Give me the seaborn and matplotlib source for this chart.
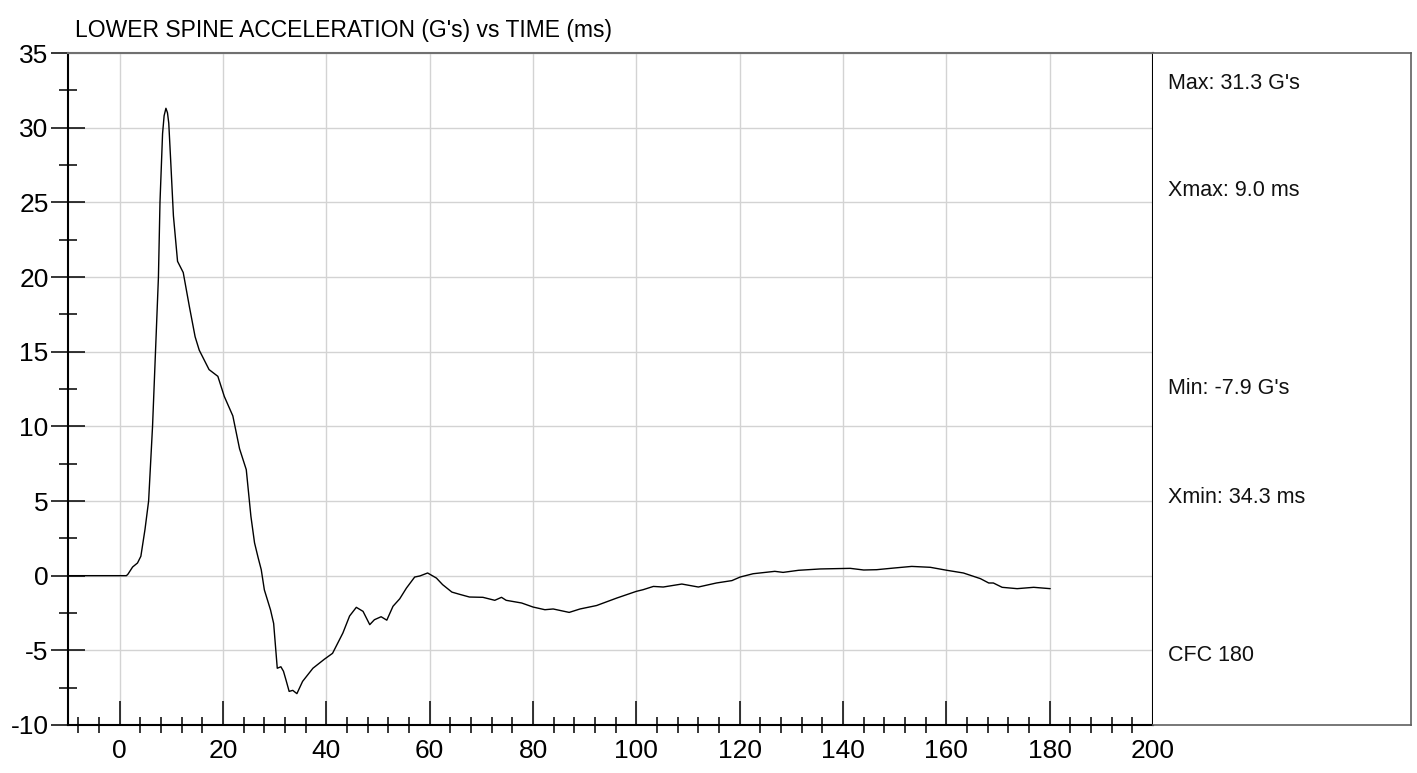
#%%
# Bibliotecas
import matplotlib
matplotlib.use('Agg')
import matplotlib.pyplot as plt
from matplotlib import font_manager
from matplotlib.ticker import MultipleLocator
import seaborn as sns
import pandas as pd

#%%
# Dados (tempo em ms, aceleracao em G's)
time_ms = [-10, 0, 1.3, 1.6, 2.5, 3.45, 4.1, 4.9, 5.6, 6.36, 7.0, 7.5, 7.8, 8.3, 8.6,
           8.95, 9.25, 9.5, 9.9, 10.4, 11.2, 12.3, 13.5, 14.6, 15.4, 17.3, 19.0, 20.25,
           21.9, 23.2, 24.5, 25.4, 26.1, 26.8, 27.4, 28.0, 29.2, 29.8, 30.5, 31.2, 31.7,
           32.2, 32.8, 33.5, 34.3, 35.4, 37.4, 39.6, 41.2, 43.2, 44.5, 45.8, 47.1, 48.4,
           49.3, 50.6, 51.7, 52.9, 54.2, 55.5, 57.1, 58.1, 59.6, 61.3, 62.5, 64.3, 65.8,
           67.7, 70.3, 72.6, 73.9, 74.8, 77.8, 80.0, 82.3, 83.9, 87.0, 89.1, 92.3, 96.2,
           100.0, 101.3, 103.3, 105.2, 108.8, 112.0, 115.5, 118.5, 120.1, 122.6, 126.8,
           128.4, 131.4, 135.6, 141.4, 144.0, 146.5, 149.8, 153.3, 156.9, 160.1, 163.3,
           166.6, 168.2, 169.1, 170.8, 173.7, 176.9, 180.1]
accel_g = [0, 0, 0, 0.1, 0.58, 0.85, 1.3, 3.1, 5.0, 10.0, 15.6, 20.0, 25.0, 29.6, 30.8,
           31.3, 31.0, 30.3, 27.6, 24.1, 21.05, 20.3, 18.0, 16.0, 15.1, 13.8, 13.35, 12.0,
           10.7, 8.5, 7.1, 3.97, 2.2, 1.2, 0.4, -0.95, -2.3, -3.2, -6.2, -6.1, -6.4,
           -7.0, -7.75, -7.68, -7.9, -7.08, -6.2, -5.6, -5.2, -3.84, -2.7, -2.12, -2.39, -3.28,
           -2.95, -2.75, -2.98, -2.05, -1.55, -0.83, -0.09, -0.02, 0.18, -0.16, -0.6, -1.1, -1.25,
           -1.43, -1.45, -1.65, -1.45, -1.65, -1.83, -2.1, -2.28, -2.23, -2.46, -2.23, -2.0, -1.5,
           -1.05, -0.94, -0.72, -0.76, -0.56, -0.76, -0.49, -0.33, -0.09, 0.13, 0.29,
           0.22, 0.36, 0.45, 0.49, 0.38, 0.4, 0.51, 0.62, 0.56, 0.36, 0.18,
           -0.2, -0.49, -0.49, -0.78, -0.87, -0.78, -0.87]

title = "LOWER SPINE ACCELERATION (G's) vs TIME (ms)"
stats_labels = ["Max: 31.3 G's", "Xmax: 9.0 ms", "Min: -7.9 G's", "Xmin: 34.3 ms", "CFC 180"]
stats_ypos = [0.955, 0.795, 0.501, 0.338, 0.104]

df = pd.DataFrame({'time': time_ms, 'accel': accel_g})

#%%
# Estilo e fontes
sns.set_style('white')
names = {f.name for f in font_manager.fontManager.ttflist}
narrow = 'Liberation Sans Narrow' if 'Liberation Sans Narrow' in names else 'Liberation Sans'
plt.rcParams['font.family'] = ['Liberation Sans', 'DejaVu Sans']
plt.rcParams['axes.unicode_minus'] = False
tick_font = font_manager.FontProperties(family=narrow, size=19)

#%%
# Grafico
fig = plt.figure(figsize=(14.17, 7.73), dpi=100)
ax = fig.add_axes([0.048, 0.0621, 0.7657, 0.8693])
side = fig.add_axes([0.048 + 0.7657, 0.0621, 0.1821, 0.8693])

sns.lineplot(data=df, x='time', y='accel', ax=ax, color='black', linewidth=1.0,
             estimator=None, sort=False)

ax.set_xlim(-10, 200)
ax.set_ylim(-10, 35)
ax.xaxis.set_major_locator(MultipleLocator(20))
ax.xaxis.set_minor_locator(MultipleLocator(4))
ax.yaxis.set_major_locator(MultipleLocator(5))
ax.yaxis.set_minor_locator(MultipleLocator(2.5))
ax.set_xticks(range(0, 201, 20))
ax.grid(True, which='major', color='#d3d3d3', linewidth=1.0)
ax.set_axisbelow(True)
ax.set_xlabel('')
ax.set_ylabel('')

ax.tick_params(which='both', bottom=True, left=True, top=False, right=False,
               colors='black')
ax.tick_params(axis='x', which='major', direction='in', length=17, width=1.1, pad=10)
ax.tick_params(axis='x', which='minor', direction='inout', length=12, width=1.1)
ax.tick_params(axis='y', which='major', direction='inout', length=24, width=1.1, pad=2)
ax.tick_params(axis='y', which='minor', direction='inout', length=13, width=1.1)
for lab in ax.get_xticklabels() + ax.get_yticklabels():
    lab.set_fontproperties(tick_font)
    lab.set_color('black')

for s in ['left', 'bottom', 'right']:
    ax.spines[s].set_color('black')
    ax.spines[s].set_linewidth(1.5)
ax.spines['top'].set_color('#707070')
ax.spines['top'].set_linewidth(1.5)

fig.text(0.053, 0.961, title, ha='left', va='center', color='black',
         fontproperties=font_manager.FontProperties(family=narrow, size=16.5))

#%%
# Painel lateral com estatisticas
side.set_xticks([])
side.set_yticks([])
side.set_facecolor('white')
for s in side.spines.values():
    s.set_color('#606060')
    s.set_linewidth(1.2)
side.spines['left'].set_visible(False)
for lab, yp in zip(stats_labels, stats_ypos):
    side.text(0.058, yp, lab, transform=side.transAxes, ha='left', va='center',
              fontsize=15.5, color='#111111')

fig.savefig('out.png', dpi=100, facecolor='white')
